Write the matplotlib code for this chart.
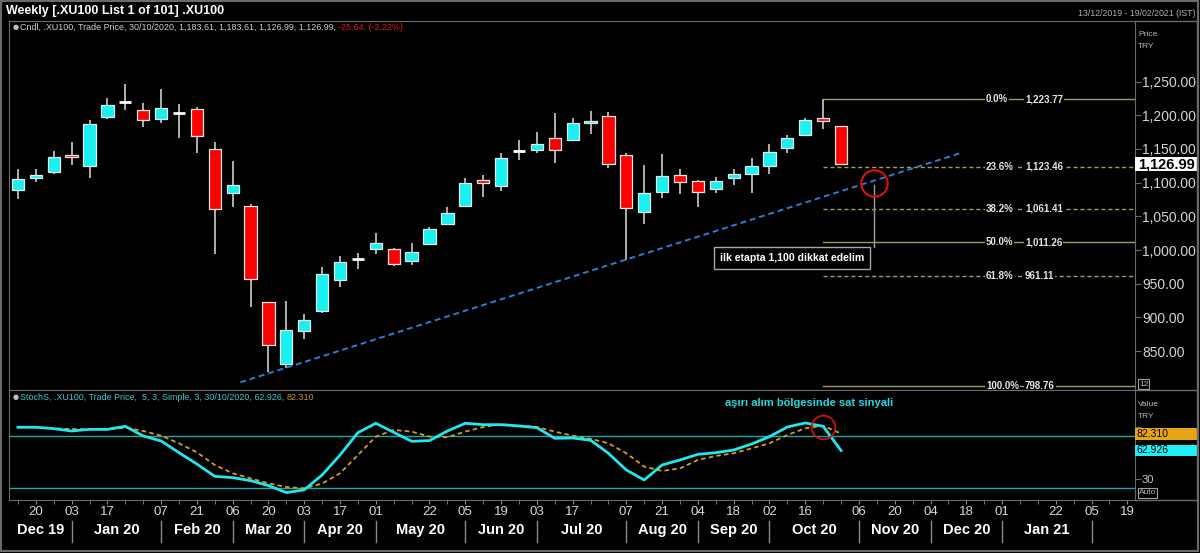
import matplotlib
matplotlib.use('Agg')
import matplotlib.pyplot as plt
import matplotlib.dates as mdates
import matplotlib.transforms as mtransforms
from matplotlib.lines import Line2D
from matplotlib.patches import Rectangle
import pandas as pd

plt.rcParams['font.family'] = ['Liberation Sans', 'DejaVu Sans']

# weekly candles of .XU100 (friday dates)
weeks = ['2019-12-13', '2019-12-20', '2019-12-27', '2020-01-03', '2020-01-10',
         '2020-01-17', '2020-01-24', '2020-01-31', '2020-02-07', '2020-02-14',
         '2020-02-21', '2020-02-28', '2020-03-06', '2020-03-13', '2020-03-20',
         '2020-03-27', '2020-04-03', '2020-04-10', '2020-04-17', '2020-04-24',
         '2020-05-01', '2020-05-08', '2020-05-15', '2020-05-22', '2020-05-29',
         '2020-06-05', '2020-06-12', '2020-06-19', '2020-06-26', '2020-07-03',
         '2020-07-10', '2020-07-17', '2020-07-24', '2020-07-31', '2020-08-07',
         '2020-08-14', '2020-08-21', '2020-08-28', '2020-09-04', '2020-09-11',
         '2020-09-18', '2020-09-25', '2020-10-02', '2020-10-09', '2020-10-16',
         '2020-10-23', '2020-10-30']
opens = [1089.0, 1106.8, 1115.2, 1140.9, 1125.1, 1196.8, 1220.3, 1207.7, 1194.9,
         1203.8, 1209.7, 1149.8, 1084.6, 1065.8, 922.3, 830.8, 880.3, 910.0,
         955.0, 987.1, 1000.9, 1001.9, 984.1, 1009.4, 1038.6, 1065.3, 1103.9,
         1094.5, 1147.4, 1148.9, 1166.7, 1163.2, 1188.9, 1199.3, 1140.9, 1055.9,
         1086.5, 1111.3, 1101.9, 1090.0, 1106.3, 1112.2, 1125.1, 1150.8, 1170.1,
         1195.3, 1183.61]
highs = [1119.7, 1119.7, 1146.4, 1160.2, 1192.9, 1225.5, 1246.3, 1217.6, 1238.9,
         1216.6, 1212.7, 1160.7, 1132.1, 1068.2, 923.0, 924.3, 904.5, 975.3,
         990.6, 995.5, 1024.7, 1002.5, 1009.9, 1034.6, 1063.8, 1106.8, 1110.8,
         1143.4, 1163.2, 1174.6, 1202.8, 1195.3, 1206.7, 1204.2, 1143.4, 1126.1,
         1142.4, 1119.7, 1103.9, 1107.8, 1119.7, 1136.0, 1157.3, 1171.1, 1195.3,
         1223.77, 1183.61]
lows = [1075.2, 1100.9, 1113.2, 1125.6, 1107.3, 1194.9, 1207.7, 1183.0, 1187.9,
        1166.7, 1144.4, 993.6, 1064.3, 915.9, 819.5, 824.4, 867.4, 907.0,
        945.6, 972.3, 994.0, 976.2, 977.2, 1008.8, 1037.8, 1063.8, 1079.1,
        1087.0, 1134.0, 1144.4, 1128.6, 1161.2, 1171.6, 1121.2, 985.1, 1038.6,
        1077.6, 1083.6, 1064.3, 1085.0, 1096.4, 1085.0, 1112.7, 1143.4, 1169.5,
        1180.0, 1126.99]
closes = [1104.8, 1111.8, 1137.5, 1137.5, 1186.9, 1215.6, 1220.3, 1192.4, 1210.7,
          1203.8, 1169.1, 1060.8, 1095.9, 956.9, 858.5, 881.8, 895.6, 964.4,
          982.2, 987.1, 1010.9, 978.7, 997.5, 1030.6, 1055.4, 1099.9, 1098.9,
          1136.0, 1147.4, 1157.8, 1148.9, 1188.4, 1191.9, 1127.1, 1061.8, 1084.1,
          1110.3, 1101.4, 1086.5, 1102.9, 1112.2, 1124.1, 1145.9, 1165.7, 1192.9,
          1191.4, 1126.99]

# slow stochastic (5,3,3) %K and %D
stoch_k = [89.7, 89.7, 88.1, 85.4, 87.3, 87.3, 90.8, 79.7, 73.9, 60.4, 47.3, 33.1,
           31.6, 28.1, 22.4, 14.3, 17.5, 34.7, 57.7, 83.5, 94.3, 83.9, 73.5, 74.3,
           85.4, 94.3, 92.7, 92.7, 91.2, 89.3, 77.0, 77.3, 74.8, 59.7, 40.4, 28.9,
           46.2, 52.0, 58.5, 60.4, 63.5, 70.4, 78.9, 90.0, 94.7, 90.8, 62.926]
stoch_d = [89.7, 89.7, 88.5, 87.7, 87.3, 87.3, 89.3, 85.4, 80.0, 71.2, 60.8, 46.2,
           36.6, 30.8, 25.0, 20.8, 19.3, 24.7, 36.6, 57.7, 78.9, 86.6, 84.7, 78.9,
           78.1, 84.7, 90.0, 93.1, 91.6, 90.0, 84.7, 80.0, 76.4, 71.2, 59.7, 44.3,
           39.3, 42.3, 52.0, 56.6, 59.7, 65.4, 71.2, 80.8, 88.5, 91.6, 82.31]
stoch_levels = [80, 20]

# fibonacci retracement drawn from the 23/10 high
fib_pcts = ['0.0%', '23.6%', '38.2%', '50.0%', '61.8%', '100.0%']
fib_values = [1223.77, 1123.46, 1061.41, 1011.26, 961.11, 798.76]
fib_solid = [True, False, False, True, False, True]
fib_start = '2020-10-23'

# support trend line
trend_dates = ['2020-03-09', '2020-12-16']
trend_values = [803.7, 1144.1]

# marked points
price_mark = ('2020-11-12', 1100.0)
stoch_mark = ('2020-10-23', 90.0)

price_ticks = [850, 900, 950, 1000, 1050, 1100, 1150, 1200, 1250]
stoch_ticks = [30, 60, 90]
stoch_tick_labels = ['30', '', '']  # 60 and 90 sit under the value boxes
last_price = 1126.99

day_ticks = ['2019-12-20', '2020-01-03', '2020-01-17', '2020-02-07', '2020-02-21',
             '2020-03-06', '2020-03-20', '2020-04-03', '2020-04-17', '2020-05-01',
             '2020-05-22', '2020-06-05', '2020-06-19', '2020-07-03', '2020-07-17',
             '2020-08-07', '2020-08-21', '2020-09-04', '2020-09-18', '2020-10-02',
             '2020-10-16', '2020-11-06', '2020-11-20', '2020-12-04', '2020-12-18',
             '2021-01-01', '2021-01-22', '2021-02-05', '2021-02-19']
month_starts = ['2020-01-03', '2020-02-07', '2020-03-06', '2020-04-03', '2020-05-01',
                '2020-06-05', '2020-07-03', '2020-08-07', '2020-09-04', '2020-10-02',
                '2020-11-06', '2020-12-04', '2021-01-01', '2021-02-05']
month_names = ['Dec 19', 'Jan 20', 'Feb 20', 'Mar 20', 'Apr 20', 'May 20', 'Jun 20',
               'Jul 20', 'Aug 20', 'Sep 20', 'Oct 20', 'Nov 20', 'Dec 20', 'Jan 21']


def dnum(s):
    return mdates.date2num(pd.Timestamp(s))


W, H = 1200, 553


def fx(px):
    return px / W


def fy(py):
    return 1 - py / H


BORDER = '#6a6a6a'
CYAN = '#19f0f0'
RED = '#ff0000'
FIB = '#9c9c5c'

fig = plt.figure(figsize=(12, 5.53), dpi=100, facecolor='black')
ax1 = fig.add_axes([fx(9), fy(390), fx(1135) - fx(9), fy(21) - fy(390)])
ax2 = fig.add_axes([fx(9), fy(500), fx(1135) - fx(9), fy(390) - fy(500)],
                   sharex=ax1)
for ax in (ax1, ax2):
    ax.set_facecolor('black')
    for sp in ax.spines.values():
        sp.set_color(BORDER)

xs = [dnum(d) for d in weeks]
x_left = xs[0] - 3.5
x_right = xs[0] + 437
ax1.set_xlim(x_left, x_right)
ax1.set_ylim(792.3, 1339.8)
ax2.set_ylim(5.8, 132.7)

# candles
half = 2.4
for x, o, h, l, c in zip(xs, opens, highs, lows, closes):
    ax1.vlines(x, l, h, color='#bdbdbd', lw=1.3, zorder=2)
    if o == c:
        ax1.hlines(o, x - half, x + half, color='white', lw=2, zorder=3)
    else:
        col = CYAN if c > o else RED
        ax1.bar(x, abs(c - o), bottom=min(o, c), width=2 * half, color=col,
                edgecolor='#e8e8e8', lw=0.9, zorder=3)

# trend line
ax1.plot([dnum(d) for d in trend_dates], trend_values, color='#2a7fd8',
         lw=1.4, ls=(0, (3, 2)), zorder=4)

# fibonacci levels
fx0 = dnum(fib_start)
ftr = mtransforms.blended_transform_factory(fig.transFigure, ax1.transData)
for pct, val, solid in zip(fib_pcts, fib_values, fib_solid):
    ax1.plot([fx0, x_right], [val, val], color=FIB, lw=1,
             ls='-' if solid else (0, (3, 2)), zorder=2)
    box = dict(facecolor='black', edgecolor='none', pad=0.6)
    ax1.text(fx(986), val, pct, transform=ftr, color='#e6e6e6', fontsize=7,
             fontweight='bold', va='center', ha='left', bbox=box, zorder=5)
    ax1.text(fx(1025), val, '{:,.2f}'.format(val), transform=ftr,
             color='#e6e6e6', fontsize=7, fontweight='bold', va='center',
             ha='left', bbox=box, zorder=5)

# red circle + callout
cx, cy = dnum(price_mark[0]), price_mark[1]
ax1.plot(cx, cy, 'o', ms=19, mfc='none', mec='#e01010', mew=1.5, zorder=6)
ax1.plot([cx, cx], [cy - 4, 1004], color='#a0a0a0', lw=1, zorder=5)
ax1.text(0.6955, 0.358, 'ilk etapta 1,100 dikkat edelim', transform=ax1.transAxes,
         color='white', fontsize=7.6, fontweight='bold', ha='center', va='center',
         bbox=dict(boxstyle='square,pad=0.55', facecolor='black',
                   edgecolor='#a8a8a8', lw=1), zorder=7)

# price axis
ax1.yaxis.tick_right()
ax1.set_yticks(price_ticks)
ax1.set_yticklabels(['{:,.2f}'.format(v) for v in price_ticks])
ax1.tick_params(axis='y', colors=BORDER, labelcolor='#d4d4d4', labelsize=10,
                length=4, pad=1)
ax1.tick_params(axis='x', length=0, labelbottom=False)

ytr = mtransforms.blended_transform_factory(ax1.transAxes, ax1.transData)
ax1.add_patch(Rectangle((1.0, last_price - 10.4), 0.055, 20.8, transform=ytr,
                        facecolor='white', edgecolor='none', clip_on=False,
                        zorder=8))
ax1.text(1.003, last_price, '{:,.2f}'.format(last_price), transform=ytr,
         color='black', fontsize=10.5, fontweight='bold', va='center',
         ha='left', zorder=9, clip_on=False)

# stochastic panel
for lv in stoch_levels:
    ax2.axhline(lv, color='#1aa8a8', lw=1, zorder=1)
ax2.plot(xs, stoch_d, color='#d89c20', lw=1.3, ls=(0, (2.5, 1.8)), zorder=3)
ax2.plot(xs, stoch_k, color='#22e6ec', lw=2, zorder=4)
ax2.plot(dnum(stoch_mark[0]), stoch_mark[1], 'o', ms=17, mfc='none',
         mec='#d01010', mew=1.3, zorder=6)
ax2.text(0.711, 0.88, 'aşırı alım bölgesinde sat sinyali',
         transform=ax2.transAxes, color='#22d8e0', fontsize=8,
         fontweight='bold', ha='center', va='center')

ax2.yaxis.tick_right()
ax2.set_yticks(stoch_ticks)
ax2.set_yticklabels(stoch_tick_labels)
ax2.tick_params(axis='y', colors=BORDER, labelcolor='#c8c8c8', labelsize=8,
                length=4, pad=1)
str_ = mtransforms.blended_transform_factory(ax2.transAxes, ax2.transData)
for val, col in ((stoch_d[-1], '#e8a317'), (stoch_k[-1], '#1ff0f4')):
    ax2.add_patch(Rectangle((1.0, val - 6.8), 0.055, 13.6, transform=str_,
                            facecolor=col, edgecolor='none', clip_on=False,
                            zorder=8))
    ax2.text(1.001, val, '{:.3f}'.format(val), transform=str_, color='black',
             fontsize=7.5, va='center', ha='left', zorder=9, clip_on=False)

# x axis
ax2.set_xticks([dnum(d) for d in day_ticks])
ax2.xaxis.set_major_formatter(mdates.DateFormatter('%d'))
ax2.xaxis.set_minor_locator(mdates.WeekdayLocator(byweekday=mdates.FR))
ax2.tick_params(axis='x', which='both', colors='#8a8a8a', length=3, pad=1.5,
                labelcolor='#d8d8d8', labelsize=9.5)

xtr = mtransforms.blended_transform_factory(ax2.transData, ax2.transAxes)
bounds = [x_left] + [dnum(d) for d in month_starts]
for b in bounds[1:]:
    ax2.add_line(Line2D([b, b], [-0.19, -0.38], transform=xtr, color='#8a8a8a',
                        lw=1, clip_on=False))
for name, a, b in zip(month_names, bounds[:-1], bounds[1:]):
    ax2.text((a + b) / 2, -0.27, name, transform=xtr, color='white',
             fontsize=10.5, fontweight='bold', ha='center', va='center')

# frames and header
fig.add_artist(Rectangle((fx(1), fy(551)), fx(1197), 550 / H, fill=False,
                         edgecolor=BORDER, lw=1.5, transform=fig.transFigure))
for (a, b, c, d) in ((1135, 1197, 21, 21), (1135, 1197, 390, 390),
                     (1135, 1197, 500, 500), (1197, 1197, 21, 500)):
    fig.add_artist(Line2D([fx(a), fx(b)], [fy(c), fy(d)], color=BORDER, lw=1,
                          transform=fig.transFigure))

fig.text(fx(6), fy(11), 'Weekly [.XU100 List 1 of 101] .XU100', color='white',
         fontsize=9, fontweight='bold', va='center', ha='left')
fig.text(fx(1195), fy(13), '13/12/2019 - 19/02/2021 (IST)', color='#b0b0b0',
         fontsize=6.3, va='center', ha='right')

fig.text(fx(13), fy(27), '●', color='#c0c0c0', fontsize=5, va='center',
         ha='left', family='DejaVu Sans')
t1 = fig.text(fx(20), fy(27), 'Cndl, .XU100, Trade Price, 30/10/2020, 1,183.61, '
              '1,183.61, 1,126.99, 1,126.99, ', color='#d0d0d0', fontsize=6.4,
              va='center', ha='left')
ax1.annotate('-25.64, (-2.22%)', xy=(1, 0), xycoords=t1, va='bottom',
             ha='left', color='#e01818', fontsize=6.4)

fig.text(fx(13), fy(397), '●', color='#c0c0c0', fontsize=5, va='center',
         ha='left', family='DejaVu Sans')
t2 = fig.text(fx(20), fy(397), 'StochS, .XU100, Trade Price,  5, 3, Simple, 3, '
              '30/10/2020, 62.926, ', color='#3cc8d0', fontsize=6.4, va='center',
              ha='left')
ax2.annotate('82.310', xy=(1, 0), xycoords=t2, va='bottom', ha='left',
             color='#c8901c', fontsize=6.4)

fig.text(fx(1138), fy(35), 'Price', color='#b8b8b8', fontsize=6, va='center')
fig.text(fx(1138), fy(46), 'TRY', color='#b8b8b8', fontsize=6, va='center')
fig.text(fx(1138), fy(405), 'Value', color='#b8b8b8', fontsize=6, va='center')
fig.text(fx(1138), fy(416), 'TRY', color='#b8b8b8', fontsize=6, va='center')
fig.text(fx(1139), fy(384), '12', color='#b8b8b8', fontsize=6, va='center',
         bbox=dict(facecolor='black', edgecolor='#a0a0a0', pad=0.8, lw=0.8))
fig.text(fx(1139), fy(493), 'Auto', color='#b8b8b8', fontsize=6, va='center',
         bbox=dict(facecolor='black', edgecolor='#a0a0a0', pad=0.8, lw=0.8))

fig.savefig('out.png', dpi=100, facecolor='black')
